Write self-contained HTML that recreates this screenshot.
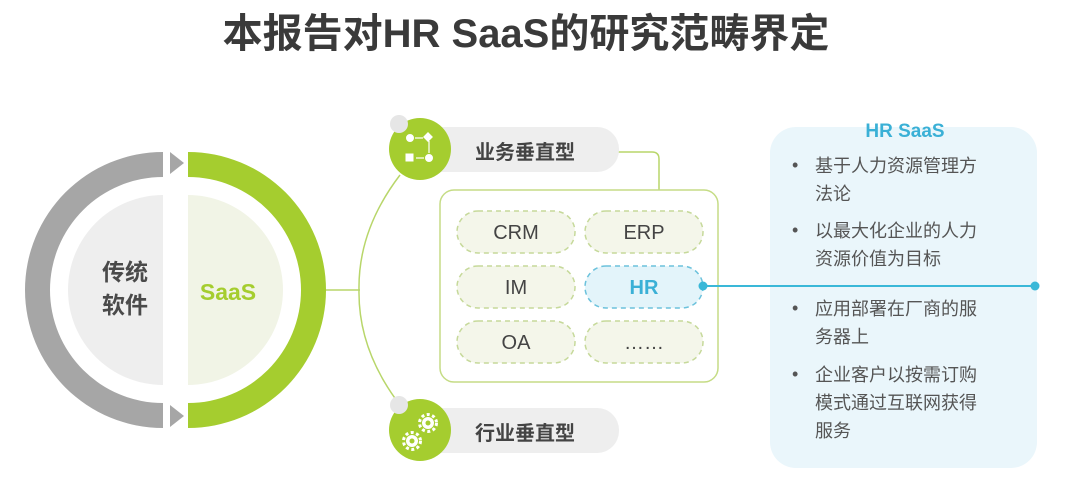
<!DOCTYPE html>
<html><head><meta charset="utf-8"><style>
html,body{margin:0;padding:0;background:#fff;}
svg{display:block;font-family:"Liberation Sans","Noto Sans CJK SC",sans-serif;}
</style></head><body>
<svg width="1069" height="496" viewBox="0 0 1069 496" xmlns="http://www.w3.org/2000/svg">
<text x="526" y="47" text-anchor="middle" font-size="40" font-weight="bold" fill="#3a3a3a">本报告对HR SaaS的研究范畴界定</text>

<path d="M163 195 A95 95 0 0 0 163 385 Z" fill="#eeeeee"/>
<path d="M188 195 A95 95 0 0 1 188 385 Z" fill="#f1f4e6"/>
<path d="M163 152 A138 138 0 0 0 163 428 L163 403 A113 113 0 0 1 163 177 Z" fill="#a6a6a6"/>
<path d="M188 152 A138 138 0 0 1 188 428 L188 403 A113 113 0 0 0 188 177 Z" fill="#a5cd2f"/>
<polygon points="170,152 184,163 170,174" fill="#a6a6a6"/>
<polygon points="170,405 184,416 170,427" fill="#a6a6a6"/>
<text x="125" y="280" text-anchor="middle" font-size="23" font-weight="bold" fill="#4a4a4a">传统</text>
<text x="125" y="313" text-anchor="middle" font-size="23" font-weight="bold" fill="#4a4a4a">软件</text>
<text x="228" y="300" text-anchor="middle" font-size="23" font-weight="bold" fill="#a5cd2f">SaaS</text>

<line x1="326" y1="290" x2="360" y2="290" stroke="#b8d66a" stroke-width="1.5"/>
<path d="M400 175 Q358 230 359 290 Q358 350 400 405" fill="none" stroke="#b8d66a" stroke-width="1.5"/>
<path d="M618 152 L652 152 Q659 152 659 159 L659 190" fill="none" stroke="#b8d66a" stroke-width="1.5"/>

<rect x="405" y="127" width="214" height="45" rx="22" fill="#eeeeee"/>
<rect x="405" y="408" width="214" height="45" rx="22" fill="#eeeeee"/>
<circle cx="420" cy="149" r="31" fill="#a5cd2f"/>
<circle cx="420" cy="430" r="31" fill="#a5cd2f"/>
<circle cx="399" cy="124" r="9" fill="#e6e6e6"/>
<circle cx="399" cy="405" r="9" fill="#e6e6e6"/>
<g fill="#fff" stroke="#fff">
<circle cx="410" cy="138" r="3.5"/><line x1="415" y1="138" x2="423" y2="138" stroke-width="1.2"/>
<rect x="425" y="134" width="6" height="6" transform="rotate(45 428 137)"/>
<line x1="429" y1="141" x2="429" y2="153" stroke-width="1.2"/>
<circle cx="429" cy="158" r="3.5"/><line x1="416" y1="158" x2="424" y2="158" stroke-width="1.2"/>
<rect x="406" y="154" width="7" height="7"/>
</g>
<g fill="#fff">
<circle cx="428" cy="423" r="6"/>
<circle cx="428" cy="423" r="8.5" fill="none" stroke="#fff" stroke-width="3" stroke-dasharray="3 2.5"/>
<circle cx="412" cy="441" r="6"/>
<circle cx="412" cy="441" r="8.5" fill="none" stroke="#fff" stroke-width="3" stroke-dasharray="3 2.5"/>
<circle cx="428" cy="423" r="2.5" fill="#a5cd2f"/>
<circle cx="412" cy="441" r="2.5" fill="#a5cd2f"/>
</g>
<text x="525" y="159" text-anchor="middle" font-size="20" font-weight="bold" fill="#444">业务垂直型</text>
<text x="525" y="440" text-anchor="middle" font-size="20" font-weight="bold" fill="#444">行业垂直型</text>

<rect x="440" y="190" width="278" height="192" rx="14" fill="#fff" stroke="#c5dc85" stroke-width="1.5"/>
<g stroke="#c6d99a" stroke-width="1.5" stroke-dasharray="5 4" fill="#f4f6ea">
<rect x="457" y="211" width="118" height="42" rx="21"/>
<rect x="585" y="211" width="118" height="42" rx="21"/>
<rect x="457" y="266" width="118" height="42" rx="21"/>
<rect x="457" y="321" width="118" height="42" rx="21"/>
<rect x="585" y="321" width="118" height="42" rx="21"/>
</g>
<rect x="585" y="266" width="118" height="42" rx="21" fill="#e3f4fa" stroke="#6cc2dc" stroke-width="1.5" stroke-dasharray="5 4"/>
<g font-size="20" fill="#444" text-anchor="middle">
<text x="516" y="239">CRM</text><text x="644" y="239">ERP</text>
<text x="516" y="294">IM</text><text x="516" y="349">OA</text><text x="644" y="349">……</text>
</g>
<text x="644" y="294" text-anchor="middle" font-size="20" font-weight="bold" fill="#3ab0d6">HR</text>

<rect x="770" y="127" width="267" height="341" rx="26" fill="#eaf6fb"/>
<text x="905" y="137" text-anchor="middle" font-size="19" font-weight="bold" fill="#3ab0d6">HR SaaS</text>
<line x1="703" y1="286" x2="1035" y2="286" stroke="#3ab8d8" stroke-width="2"/>
<circle cx="703" cy="286" r="4.5" fill="#3ab8d8"/>
<circle cx="1035" cy="286" r="4.5" fill="#3ab8d8"/>
<g font-size="18" fill="#555">
<text x="792" y="171">•</text><text x="815" y="172">基于人力资源管理方</text><text x="815" y="200">法论</text>
<text x="792" y="236">•</text><text x="815" y="237">以最大化企业的人力</text><text x="815" y="265">资源价值为目标</text>
<text x="792" y="314">•</text><text x="815" y="315">应用部署在厂商的服</text><text x="815" y="343">务器上</text>
<text x="792" y="380">•</text><text x="815" y="381">企业客户以按需订购</text><text x="815" y="409">模式通过互联网获得</text><text x="815" y="437">服务</text>
</g>
</svg>
</body></html>
